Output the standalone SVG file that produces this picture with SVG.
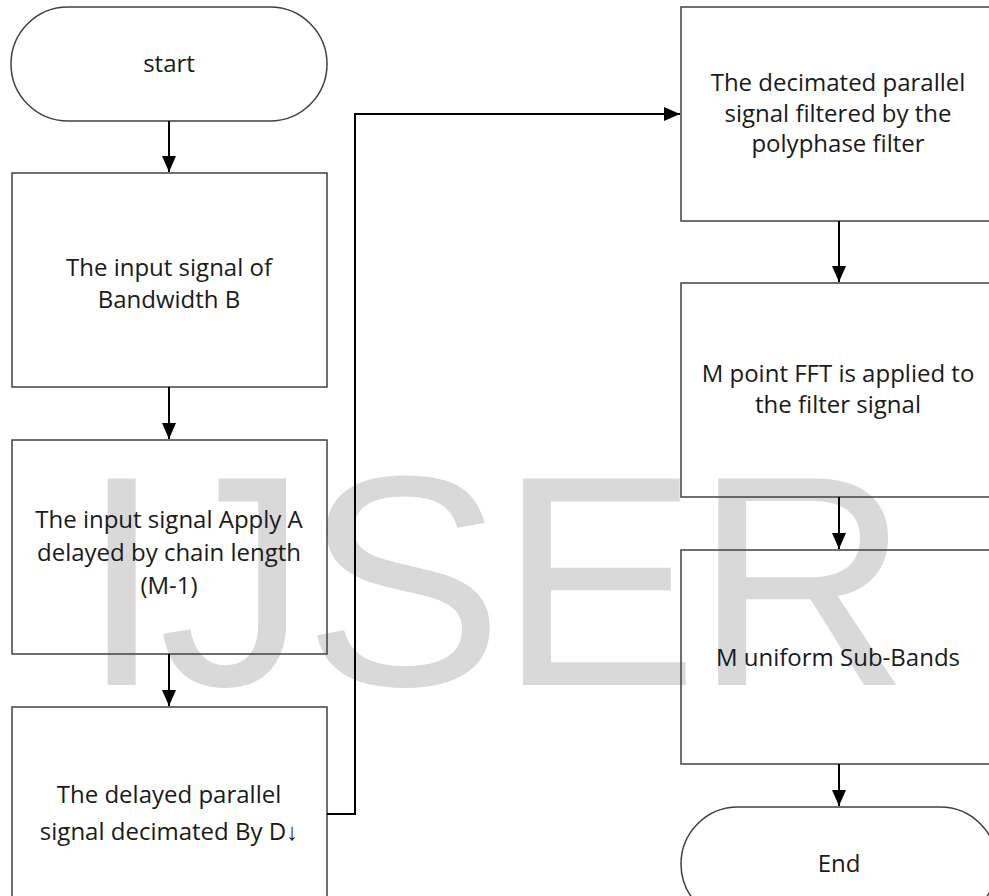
<svg xmlns="http://www.w3.org/2000/svg" width="989" height="896" viewBox="0 0 989 896">
<style>
.box{fill:none;stroke:#404040;stroke-width:1.5}
.lbl{font-family:"Open Sans","Liberation Sans",sans-serif;font-size:24px;fill:#1a1a1a;text-anchor:middle}
.wm{font-family:"Liberation Sans",Arial,sans-serif;font-size:300px;fill:#d9d9d9;letter-spacing:-5px}
.con{fill:none;stroke:#000;stroke-width:2}
</style>
<defs>
<marker id="ah" markerWidth="16" markerHeight="16" refX="16" refY="8" orient="auto" markerUnits="userSpaceOnUse" viewBox="0 0 16 16">
<path d="M0,1 L16,8 L0,15 z" fill="#000"/>
</marker>
</defs>
<rect width="989" height="896" fill="#fff"/>
<text class="wm" x="80" y="685">IJSER</text>
<g id="start">
<rect class="box" x="11" y="7" width="316" height="114" rx="57" ry="57"/>
<text class="lbl" x="169" y="72">start</text>
</g>
<g id="input">
<rect class="box" x="12" y="173" width="315" height="214"/>
<text class="lbl" x="169" y="276">The input signal of</text>
<text class="lbl" x="169" y="308">Bandwidth B</text>
</g>
<g id="delay">
<rect class="box" x="12" y="440" width="315" height="214"/>
<text class="lbl" x="169" y="528">The input signal  Apply A</text>
<text class="lbl" x="169" y="561">delayed by chain length</text>
<text class="lbl" x="169" y="594">(M-1)</text>
</g>
<g id="decimate">
<rect class="box" x="12" y="707" width="315" height="200"/>
<text class="lbl" x="169" y="803">The delayed parallel</text>
<text class="lbl" x="169" y="840">signal decimated By D↓</text>
</g>
<g id="filter">
<rect class="box" x="681" y="7" width="320" height="214"/>
<text class="lbl" x="838" y="91">The decimated parallel</text>
<text class="lbl" x="838" y="122">signal filtered by the</text>
<text class="lbl" x="838" y="152">polyphase filter</text>
</g>
<g id="fft">
<rect class="box" x="681" y="283" width="320" height="214"/>
<text class="lbl" x="838" y="382">M point FFT is applied to</text>
<text class="lbl" x="838" y="413">the filter signal</text>
</g>
<g id="subbands">
<rect class="box" x="681" y="550" width="320" height="214"/>
<text class="lbl" x="838" y="666">M uniform Sub-Bands</text>
</g>
<g id="end">
<rect class="box" x="681" y="807" width="316" height="114" rx="57" ry="57"/>
<text class="lbl" x="839" y="872">End</text>
</g>
<g id="connectors">
<path class="con" d="M169,121 V172" marker-end="url(#ah)"/>
<path class="con" d="M169,387 V439" marker-end="url(#ah)"/>
<path class="con" d="M169,654 V706" marker-end="url(#ah)"/>
<path class="con" d="M327,814 H355 V114 H680" marker-end="url(#ah)"/>
<path class="con" d="M839,221 V282" marker-end="url(#ah)"/>
<path class="con" d="M839,497 V549" marker-end="url(#ah)"/>
<path class="con" d="M839,764 V806" marker-end="url(#ah)"/>
</g>
</svg>
